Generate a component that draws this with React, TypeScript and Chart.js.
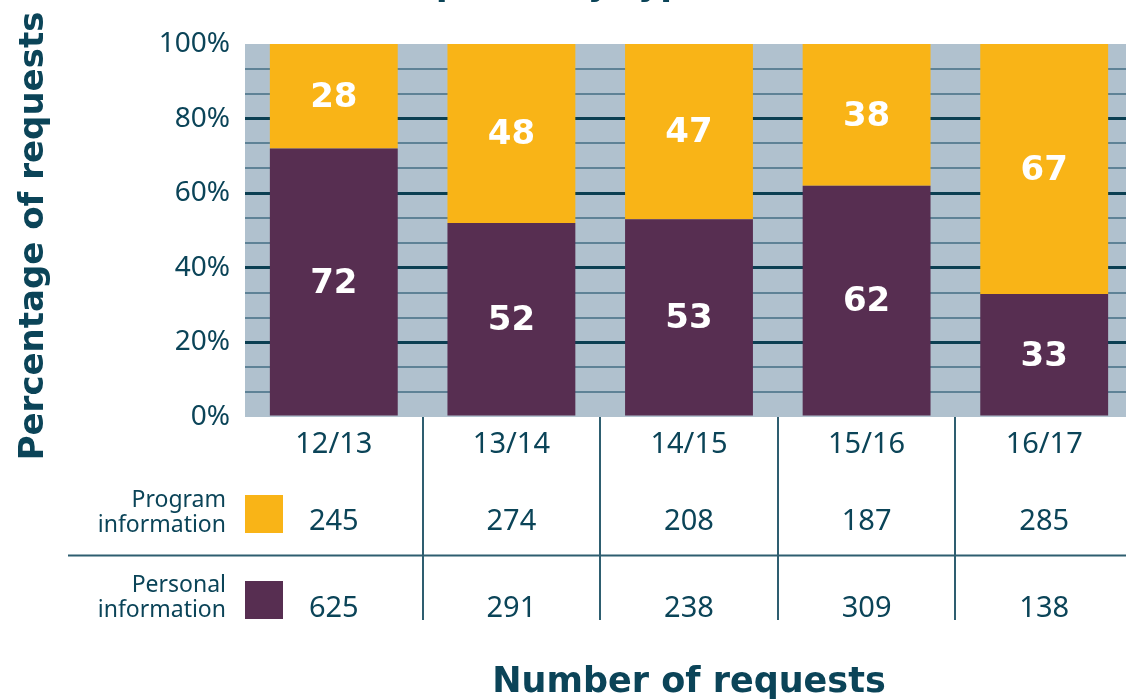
import React, { useEffect, useRef } from "react";
import { Chart, registerables } from "chart.js";

Chart.register(...registerables);

const categories = ["12/13", "13/14", "14/15", "15/16", "16/17"];
const programPct = [28, 48, 47, 38, 67];
const personalPct = [72, 52, 53, 62, 33];
const programCounts = [245, 274, 208, 187, 285];
const personalCounts = [625, 291, 238, 309, 138];
const yMajorTicks = [0, 20, 40, 60, 80, 100];
const gridDivisions = 3;

const titleText = "Requests by type";
const yTitle = "Percentage of requests";
const xTitle = "Number of requests";
const programLabel = ["Program", "information"];
const personalLabel = ["Personal", "information"];

const YELLOW = "#F9B417";
const PURPLE = "#572E51";
const GREY = "#B0C1CE";
const TEXT = "#0B4458";
const MAJOR = "#0B3F52";
const MINOR = "#5E8296";
const RULE = "#2E5E70";
const BOLD = "'DejaVu Sans', sans-serif";
const NORMAL = "'Noto Sans', Lato, sans-serif";

export default function App() {
  const ref = useRef<HTMLCanvasElement | null>(null);

  useEffect(() => {
    if (!ref.current) return;

    const bgPlugin = {
      id: "plotBg",
      beforeDraw(chart: any) {
        const { ctx, chartArea: a } = chart;
        ctx.save();
        ctx.fillStyle = GREY;
        ctx.fillRect(a.left, a.top, a.right - a.left, a.bottom - a.top);
        ctx.restore();
      },
    };

    const labelPlugin = {
      id: "segLabels",
      afterDatasetsDraw(chart: any) {
        const { ctx } = chart;
        ctx.save();
        ctx.fillStyle = "#FFFFFF";
        ctx.font = `bold 34px ${BOLD}`;
        ctx.textAlign = "center";
        ctx.textBaseline = "middle";
        chart.data.datasets.forEach((ds: any, di: number) => {
          const meta = chart.getDatasetMeta(di);
          meta.data.forEach((el: any, i: number) => {
            const p = el.getProps(["x", "y", "base"], true);
            ctx.fillText(String(ds.data[i]), p.x, (p.y + p.base) / 2 + 2);
          });
        });
        ctx.restore();
      },
    };

    const tablePlugin = {
      id: "table",
      afterDraw(chart: any) {
        const { ctx, chartArea: a } = chart;
        const xs = chart.scales.x;
        const n = categories.length;
        const cx = categories.map((_, i) => xs.getPixelForValue(i));
        ctx.save();

        // top title (cropped)
        ctx.fillStyle = TEXT;
        ctx.font = `bold 34px ${BOLD}`;
        ctx.textAlign = "left";
        ctx.textBaseline = "alphabetic";
        ctx.fillText(titleText, 374, -5);

        // y axis title
        ctx.save();
        ctx.translate(43, 236);
        ctx.rotate(-Math.PI / 2);
        ctx.textAlign = "center";
        ctx.fillText(yTitle, 0, 0);
        ctx.restore();

        // x title
        ctx.font = `bold 35px ${BOLD}`;
        ctx.textAlign = "center";
        ctx.fillText(xTitle, (a.left + a.right) / 2, 692);

        // lines
        ctx.strokeStyle = RULE;
        ctx.lineWidth = 2;
        for (let i = 0; i < n - 1; i++) {
          const x = Math.round((cx[i] + cx[i + 1]) / 2);
          ctx.beginPath();
          ctx.moveTo(x, a.bottom);
          ctx.lineTo(x, 620);
          ctx.stroke();
        }
        ctx.beginPath();
        ctx.moveTo(68, 555.5);
        ctx.lineTo(chart.width, 555.5);
        ctx.stroke();

        // category labels + counts
        ctx.fillStyle = TEXT;
        ctx.font = `29px ${NORMAL}`;
        ctx.textAlign = "center";
        categories.forEach((c, i) => {
          ctx.fillText(c, cx[i], 453);
          ctx.fillText(String(programCounts[i]), cx[i], 530);
          ctx.fillText(String(personalCounts[i]), cx[i], 617);
        });

        // legend
        ctx.font = `23px ${NORMAL}`;
        ctx.textAlign = "right";
        ctx.fillText(programLabel[0], 226, 507);
        ctx.fillText(programLabel[1], 226, 532);
        ctx.fillText(personalLabel[0], 226, 592);
        ctx.fillText(personalLabel[1], 226, 617);
        ctx.fillStyle = YELLOW;
        ctx.fillRect(245, 495, 38, 38);
        ctx.fillStyle = PURPLE;
        ctx.fillRect(245, 581, 38, 38);

        ctx.restore();
      },
    };

    const isMajor = (v: number) =>
      Math.abs(v - Math.round(v)) < 1e-6 && yMajorTicks.includes(Math.round(v));

    const chart = new Chart(ref.current, {
      type: "bar",
      data: {
        labels: categories,
        datasets: [
          {
            label: "Personal information",
            data: personalPct,
            backgroundColor: PURPLE,
            barPercentage: 0.72,
            categoryPercentage: 1,
          },
          {
            label: "Program information",
            data: programPct,
            backgroundColor: YELLOW,
            barPercentage: 0.72,
            categoryPercentage: 1,
          },
        ],
      },
      options: {
        animation: false,
        responsive: false,
        devicePixelRatio: 1,
        layout: { padding: { top: 44, right: 7, left: 0, bottom: 0 } },
        plugins: {
          legend: { display: false },
          tooltip: { enabled: false },
          title: { display: false },
        },
        scales: {
          x: {
            stacked: true,
            grid: { display: false },
            border: { display: false },
            ticks: { display: false },
            afterFit: (s: any) => {
              s.height = 283;
            },
          },
          y: {
            stacked: true,
            min: 0,
            max: 100,
            afterBuildTicks: (s: any) => {
              const ticks: any[] = [];
              for (let k = 0; k < yMajorTicks.length; k++) {
                ticks.push({ value: yMajorTicks[k] });
                if (k < yMajorTicks.length - 1) {
                  const step = (yMajorTicks[k + 1] - yMajorTicks[k]) / gridDivisions;
                  for (let j = 1; j < gridDivisions; j++) {
                    ticks.push({ value: yMajorTicks[k] + step * j });
                  }
                }
              }
              s.ticks = ticks;
            },
            afterFit: (s: any) => {
              s.width = 245;
            },
            border: { display: false },
            grid: {
              drawTicks: false,
              color: (c: any) => {
                const v = c.tick ? c.tick.value : 0;
                if (v <= 0 || v >= 100) return "rgba(0,0,0,0)";
                return isMajor(v) ? MAJOR : MINOR;
              },
              lineWidth: (c: any) => {
                const v = c.tick ? c.tick.value : 0;
                return isMajor(v) ? 3 : 2;
              },
            },
            ticks: {
              autoSkip: false,
              padding: 15,
              color: TEXT,
              font: { family: "'Noto Sans', Lato, sans-serif", size: 28 },
              callback: (v: any) => (isMajor(Number(v)) ? `${Math.round(Number(v))}%` : ""),
            },
          },
        },
      },
      plugins: [bgPlugin, labelPlugin, tablePlugin],
    } as any);

    return () => chart.destroy();
  }, []);

  return (
    <div
      style={{
        position: "fixed",
        left: 0,
        top: 0,
        width: 1126,
        height: 700,
        overflow: "hidden",
        background: "#FFFFFF",
      }}
    >
      <canvas ref={ref} width={1140} height={700} style={{ display: "block", width: 1140, height: 700 }} />
    </div>
  );
}
